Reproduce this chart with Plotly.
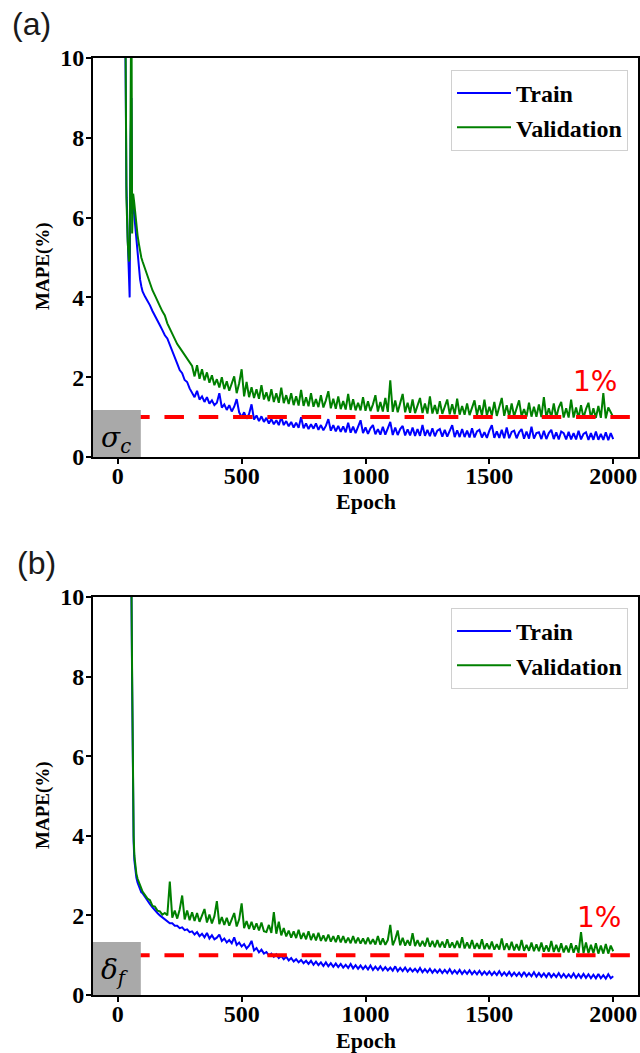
import plotly.graph_objects as go

# ---------------- data ----------------
early_epochs_a = [1, 10, 20, 30, 35, 40, 45, 48, 52, 55, 58, 62, 66, 70, 75, 80, 85, 90, 95]
early_epochs_b = [1, 10, 20, 30, 40, 50, 55, 58, 61, 64, 67, 70, 75, 80, 85, 90, 95]
main_epochs = list(range(100, 2001, 10))
epochs_a = early_epochs_a + main_epochs
epochs_b = early_epochs_b + main_epochs

train_a = [60, 30, 16, 11, 6.8, 5.5, 4.4, 4.0, 8.0, 9.0, 6.1, 6.35, 6.1, 5.8, 5.45, 5.15, 4.7, 4.45, 4.28,
    4.15, 4.02, 3.92, 3.8, 3.66, 3.55, 3.42, 3.3, 3.18, 3.05,
    2.97, 2.8, 2.64, 2.46, 2.34, 2.18, 2.1, 1.93, 1.88, 1.72,
    1.62, 1.5, 1.66, 1.44, 1.52, 1.38, 1.5, 1.34, 1.42, 1.3,
    1.36, 1.6, 1.24, 1.32, 1.18, 1.3, 1.14, 1.26, 1.45, 1.12,
    1.0, 1.12, 0.96, 1.08, 1.32, 0.94, 1.04, 0.9, 1.02, 0.88,
    0.98, 0.84, 0.95, 0.82, 0.92, 0.8, 1.0, 0.8, 0.9, 0.77,
    0.88, 0.74, 0.86, 0.73, 1.0, 0.72, 0.84, 0.7, 0.82, 0.71,
    0.84, 0.68, 0.8, 0.67, 0.78, 0.95, 0.66, 0.8, 0.64, 0.78,
    0.63, 0.77, 0.62, 0.86, 0.61, 0.76, 0.6, 0.74, 0.92, 0.6,
    0.74, 0.58, 0.72, 0.8, 0.57, 0.7, 0.56, 0.76, 0.56, 0.72,
    0.88, 0.55, 0.74, 0.55, 0.7, 0.78, 0.54, 0.69, 0.54, 0.74,
    0.53, 0.7, 0.53, 0.8, 0.53, 0.68, 0.52, 0.72, 0.52, 0.66,
    0.7, 0.51, 0.68, 0.51, 0.66, 0.8, 0.5, 0.67, 0.5, 0.7,
    0.5, 0.66, 0.49, 0.72, 0.49, 0.64, 0.68, 0.49, 0.62, 0.48,
    0.66, 0.8, 0.48, 0.64, 0.48, 0.68, 0.47, 0.74, 0.47, 0.63,
    0.66, 0.47, 0.62, 0.7, 0.46, 0.64, 0.46, 0.76, 0.46, 0.6,
    0.62, 0.45, 0.66, 0.45, 0.6, 0.68, 0.45, 0.62, 0.44, 0.64,
    0.6, 0.44, 0.63, 0.44, 0.6, 0.44, 0.66, 0.44, 0.58, 0.62,
    0.43, 0.6, 0.43, 0.64, 0.43, 0.58, 0.43, 0.62, 0.42, 0.6,
    0.45]

val_a = [80, 40, 20, 12, 6.5, 5.4, 4.9, 5.0, 11, 12, 5.6, 6.6, 6.4, 6.1, 5.75, 5.55, 5.35, 5.15, 5.0,
    4.9, 4.72, 4.5, 4.35, 4.18, 4.05, 3.9, 3.78, 3.65, 3.55,
    3.35, 3.22, 3.08, 2.95, 2.83, 2.74, 2.65, 2.55, 2.48, 2.38,
    2.28, 2.02, 2.3, 1.96, 2.2, 1.92, 2.12, 1.86, 2.05, 1.8,
    1.95, 1.74, 2.0, 1.7, 1.9, 1.66, 1.86, 2.02, 1.6, 1.85,
    2.2, 1.52, 1.88, 1.5, 1.75, 1.48, 1.7, 1.46, 1.8, 1.44,
    1.62, 1.4, 1.7, 1.38, 1.6, 1.36, 1.74, 1.35, 1.55, 1.33,
    1.6, 1.3, 1.52, 1.29, 1.68, 1.28, 1.5, 1.27, 1.6, 1.26,
    1.45, 1.25, 1.55, 1.24, 1.42, 1.65, 1.22, 1.46, 1.21, 1.52,
    1.2, 1.4, 1.19, 1.58, 1.18, 1.45, 1.17, 1.36, 1.17, 1.5,
    1.16, 1.4, 1.15, 1.32, 1.55, 1.14, 1.38, 1.14, 1.48, 1.13,
    1.92, 1.13, 1.42, 1.12, 1.35, 1.58, 1.12, 1.36, 1.11, 1.44,
    1.1, 1.32, 1.48, 1.1, 1.34, 1.09, 1.52, 1.09, 1.3, 1.08,
    1.4, 1.08, 1.28, 1.44, 1.07, 1.32, 1.07, 1.46, 1.06, 1.28,
    1.06, 1.34, 1.05, 1.25, 1.42, 1.05, 1.3, 1.04, 1.44, 1.04,
    1.26, 1.04, 1.38, 1.03, 1.24, 1.48, 1.03, 1.3, 1.02, 1.34,
    1.02, 1.24, 1.42, 1.02, 1.2, 1.01, 1.36, 1.01, 1.26, 1.01,
    1.32, 1.0, 1.5, 1.0, 1.22, 1.0, 1.34, 0.99, 1.24, 1.38,
    0.99, 1.22, 0.99, 1.44, 0.99, 1.24, 0.98, 1.3, 0.98, 1.2,
    1.36, 0.98, 1.22, 0.98, 1.28, 0.98, 1.6, 0.97, 1.24, 1.12,
    1.0]

train_b = [78, 39, 24, 17.5, 13.8, 11.2, 10.2, 7.8, 4.8, 3.85, 3.38, 3.15, 2.95, 2.82, 2.72, 2.64, 2.58,
    2.56, 2.46, 2.36, 2.28, 2.2, 2.12, 2.06, 2.0, 1.95, 1.9,
    1.86, 1.8, 1.8, 1.74, 1.74, 1.68, 1.7, 1.63, 1.65, 1.58,
    1.6, 1.52, 1.58, 1.48, 1.54, 1.45, 1.56, 1.42, 1.5, 1.4,
    1.44, 1.52, 1.36, 1.42, 1.32, 1.38, 1.3, 1.45, 1.26, 1.32,
    1.22, 1.28, 1.17, 1.24, 1.36, 1.12, 1.18, 1.07, 1.14, 1.04,
    1.08, 0.99, 1.04, 0.96, 1.02, 0.93, 0.98, 0.9, 0.96, 0.87,
    0.93, 0.84, 0.9, 0.82, 0.88, 0.8, 0.86, 0.78, 0.86, 0.76,
    0.84, 0.75, 0.82, 0.73, 0.82, 0.72, 0.8, 0.71, 0.79, 0.7,
    0.78, 0.69, 0.76, 0.68, 0.78, 0.67, 0.75, 0.66, 0.74, 0.65,
    0.73, 0.64, 0.74, 0.63, 0.71, 0.63, 0.72, 0.62, 0.7, 0.62,
    0.69, 0.61, 0.72, 0.6, 0.68, 0.6, 0.69, 0.59, 0.67, 0.59,
    0.66, 0.58, 0.68, 0.57, 0.65, 0.57, 0.66, 0.56, 0.64, 0.56,
    0.64, 0.55, 0.63, 0.55, 0.65, 0.54, 0.62, 0.54, 0.63, 0.53,
    0.61, 0.53, 0.62, 0.52, 0.6, 0.52, 0.61, 0.51, 0.59, 0.51,
    0.59, 0.5, 0.58, 0.5, 0.6, 0.49, 0.57, 0.49, 0.58, 0.48,
    0.56, 0.48, 0.56, 0.47, 0.58, 0.47, 0.55, 0.47, 0.57, 0.46,
    0.55, 0.46, 0.54, 0.45, 0.56, 0.45, 0.53, 0.45, 0.55, 0.44,
    0.53, 0.44, 0.52, 0.44, 0.54, 0.43, 0.52, 0.43, 0.53, 0.43,
    0.52, 0.42, 0.51, 0.42, 0.53, 0.42, 0.5, 0.41, 0.52, 0.42,
    0.47]

val_b = [80, 40, 25, 18, 14, 11.5, 10.5, 8.0, 5.0, 4.0, 3.5, 3.25, 3.05, 2.92, 2.82, 2.74, 2.68,
    2.6, 2.5, 2.42, 2.38, 2.24, 2.22, 2.12, 2.1, 2.02, 2.06,
    2.0, 2.85, 1.94, 2.12, 1.92, 2.15, 2.5, 1.9, 2.12, 1.88,
    2.08, 1.86, 2.06, 1.84, 2.0, 2.16, 1.82, 2.02, 1.8, 1.98,
    2.36, 1.78, 1.96, 1.76, 1.94, 1.74, 1.9, 2.06, 1.72, 1.9,
    2.3, 1.68, 1.86, 1.66, 1.84, 1.64, 1.8, 1.62, 1.82, 1.6,
    1.58, 1.76, 1.56, 2.08, 1.54, 1.84, 1.5, 1.68, 1.47, 1.62,
    1.44, 1.6, 1.43, 1.64, 1.41, 1.56, 1.4, 1.6, 1.38, 1.54,
    1.37, 1.56, 1.36, 1.5, 1.35, 1.52, 1.34, 1.48, 1.33, 1.5,
    1.32, 1.48, 1.31, 1.44, 1.3, 1.48, 1.3, 1.44, 1.29, 1.42,
    1.28, 1.44, 1.28, 1.4, 1.27, 1.48, 1.26, 1.42, 1.26, 1.38,
    1.76, 1.25, 1.4, 1.62, 1.25, 1.44, 1.24, 1.38, 1.24, 1.55,
    1.23, 1.38, 1.22, 1.36, 1.22, 1.44, 1.21, 1.36, 1.2, 1.38,
    1.2, 1.34, 1.19, 1.4, 1.19, 1.32, 1.18, 1.36, 1.18, 1.45,
    1.17, 1.32, 1.17, 1.38, 1.16, 1.3, 1.16, 1.4, 1.15, 1.3,
    1.15, 1.34, 1.14, 1.28, 1.14, 1.42, 1.13, 1.3, 1.13, 1.34,
    1.12, 1.28, 1.12, 1.38, 1.11, 1.26, 1.11, 1.32, 1.1, 1.27,
    1.1, 1.32, 1.09, 1.25, 1.09, 1.36, 1.08, 1.26, 1.08, 1.3,
    1.07, 1.24, 1.07, 1.3, 1.06, 1.25, 1.06, 1.58, 1.05, 1.32,
    1.05, 1.26, 1.05, 1.3, 1.04, 1.24, 1.04, 1.28, 1.04, 1.24,
    1.1]

threshold_x = [50, 2071]
threshold_y = [1, 1]
x_ticks = [0, 500, 1000, 1500, 2000]
y_ticks = [0, 2, 4, 6, 8, 10]
box_top_a = 1.18
box_top_b = 1.33

# ---------------- figure ----------------
BLUE = "#0000ff"
GREEN = "#008000"
RED = "#ff0000"
SERIF = "Liberation Serif"

fig = go.Figure()

def add_panel(xaxis, yaxis, legend, epochs, tr, va):
    fig.add_trace(go.Scatter(x=epochs, y=tr, mode="lines", name="Train",
                             line=dict(color=BLUE, width=2), xaxis=xaxis, yaxis=yaxis,
                             legend=legend))
    fig.add_trace(go.Scatter(x=epochs, y=va, mode="lines", name="Validation",
                             line=dict(color=GREEN, width=2), xaxis=xaxis, yaxis=yaxis,
                             legend=legend))
    fig.add_trace(go.Scatter(x=threshold_x, y=threshold_y, mode="lines", showlegend=False,
                             line=dict(color=RED, width=4, dash="19.5px,14.8px"),
                             xaxis=xaxis, yaxis=yaxis))

add_panel("x", "y", "legend", epochs_a, train_a, val_a)
add_panel("x2", "y2", "legend2", epochs_b, train_b, val_b)

XL, XR = 93 / 640, 638 / 640
H = 1053.0
dom_a = [1 - 457 / H, 1 - 58 / H]
dom_b = [1 - 995 / H, 1 - 597 / H]

axis_common = dict(showgrid=False, zeroline=False, showline=True, linecolor="black",
                   linewidth=2, mirror=True, ticks="outside", ticklen=5, tickwidth=1.5,
                   tickcolor="black", automargin=False,
                   tickfont=dict(family=SERIF, size=24, color="black", weight="bold"))

legend_common = dict(xanchor="right", yanchor="top", bgcolor="white",
                     bordercolor="#d0d0d0", borderwidth=1, itemwidth=54,
                     font=dict(family=SERIF, size=24, color="black", weight="bold"))

fig.update_layout(
    width=640, height=1053,
    margin=dict(l=0, r=0, t=0, b=0, autoexpand=False),
    paper_bgcolor="white", plot_bgcolor="white",
    xaxis=dict(domain=[XL, XR], anchor="y", range=[-100, 2100], tickvals=x_ticks,
               ticklabelstandoff=-9, **axis_common),
    yaxis=dict(domain=dom_a, anchor="x", range=[0, 10], tickvals=y_ticks,
               ticklabelstandoff=-3, **axis_common),
    xaxis2=dict(domain=[XL, XR], anchor="y2", range=[-100, 2100], tickvals=x_ticks,
                ticklabelstandoff=-9, **axis_common),
    yaxis2=dict(domain=dom_b, anchor="x2", range=[0, 10], tickvals=y_ticks,
                ticklabelstandoff=-3, **axis_common),
    legend=dict(x=628 / 640, y=1 - 70 / H, **legend_common),
    legend2=dict(x=628 / 640, y=1 - 608 / H, **legend_common),
    showlegend=True,
)

# gray label boxes
fig.add_shape(type="rect", xref="x", yref="y", x0=-100, x1=93, y0=0, y1=box_top_a,
              fillcolor="#a9a9a9", line=dict(width=0), layer="above")
fig.add_shape(type="rect", xref="x2", yref="y2", x0=-100, x1=93, y0=0, y1=box_top_b,
              fillcolor="#a9a9a9", line=dict(width=0), layer="above")

C = dict(xanchor="center", yanchor="middle", showarrow=False)
ann = []
# panel letters
ann.append(dict(text="(a)", x=31 / 640, y=1 - 24 / H, xref="paper", yref="paper",
                font=dict(family="Liberation Sans", size=32, color="#1a1a1a"), **C))
ann.append(dict(text="(b)", x=36 / 640, y=1 - 563 / H, xref="paper", yref="paper",
                font=dict(family="Liberation Sans", size=32, color="#1a1a1a"), **C))
# axis titles
for yc in [1 - 266 / H, 1 - 805 / H]:
    ann.append(dict(text="MAPE(%)", x=43 / 640, y=yc, xref="paper", yref="paper",
                    textangle=-90, font=dict(family=SERIF, size=19, color="black", weight="bold"), **C))
for yc in [1 - 501 / H, 1 - 1040 / H]:
    ann.append(dict(text="Epoch", x=366 / 640, y=yc, xref="paper", yref="paper",
                    font=dict(family=SERIF, size=22, color="black", weight="bold"), **C))
# 1% labels
ann.append(dict(text="1%", x=1926, y=1.9, xref="x", yref="y",
                font=dict(family="DejaVu Sans", size=28, color=RED), **C))
ann.append(dict(text="1%", x=1942, y=1.95, xref="x2", yref="y2",
                font=dict(family="DejaVu Sans", size=28, color=RED), **C))
# symbols
ann.append(dict(text="<i>σ</i><sub><i>c</i></sub>", x=-8, y=0.45, xref="x", yref="y",
                font=dict(family="DejaVu Serif", size=28, color="black"), **C))
ann.append(dict(text="<i>δ</i><sub><i>f</i></sub>", x=-12, y=0.6, xref="x2", yref="y2",
                font=dict(family="DejaVu Serif", size=28, color="black"), **C))
fig.update_layout(annotations=ann)

fig.write_html("out.html")
